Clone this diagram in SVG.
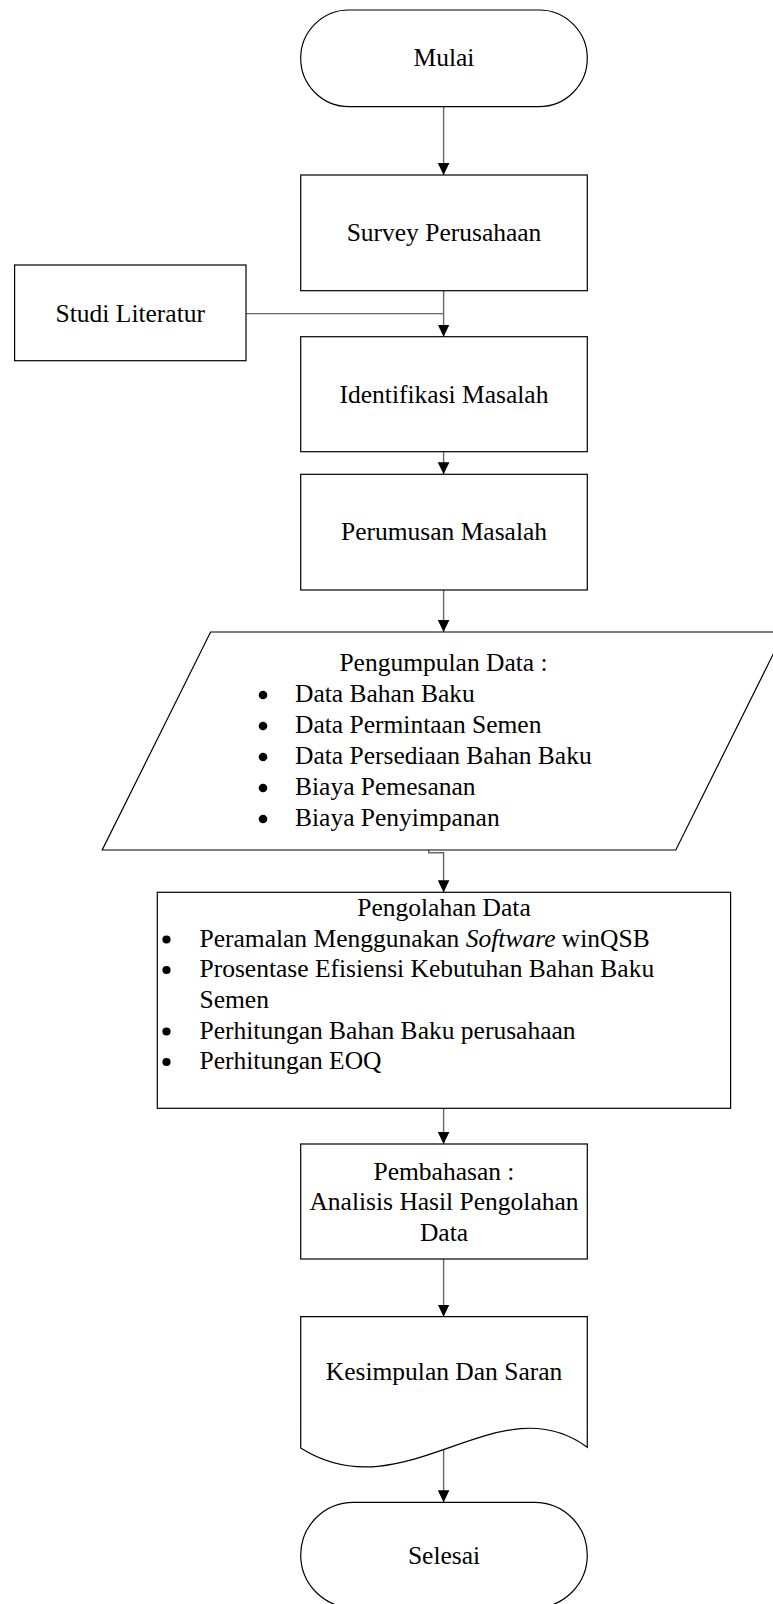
<svg xmlns="http://www.w3.org/2000/svg" width="773" height="1604" viewBox="0 0 773 1604">
<style>
.shape{fill:#fff;stroke:#000;stroke-width:1.2}
.conn{fill:none;stroke:#666;stroke-width:1.4}
text{font-family:"Liberation Serif","Times New Roman",serif;font-size:25.5px;fill:#000}
.c{text-anchor:middle}
.b{fill:#000;stroke:none}
</style>
<defs>
<marker id="arr" markerUnits="userSpaceOnUse" markerWidth="12" markerHeight="12" refX="12" refY="6" orient="auto">
<path d="M0,0.2 L12,6 L0,11.8 z" fill="#000"/>
</marker>
</defs>
<rect width="773" height="1604" fill="#fff"/>
<g id="connectors">
<path class="conn" d="M443.6,106.6 V175" marker-end="url(#arr)"/>
<path class="conn" d="M443.6,290.7 V336.7" marker-end="url(#arr)"/>
<path class="conn" d="M246,313.6 H443.6"/>
<path class="conn" d="M443.6,451.7 V474.3" marker-end="url(#arr)"/>
<path class="conn" d="M443.6,590 V632" marker-end="url(#arr)"/>
<path class="conn" d="M428.8,850 V852.8 H443.6 V892.3" marker-end="url(#arr)"/>
<path class="conn" d="M443.6,1108.3 V1144" marker-end="url(#arr)"/>
<path class="conn" d="M443.6,1259 V1316.7" marker-end="url(#arr)"/>
<path class="conn" d="M443.6,1447.5 V1502.3" marker-end="url(#arr)"/>
</g>
<g id="mulai">
<rect class="shape" x="300.7" y="10" width="286.6" height="96.6" rx="48.3" ry="48.3"/>
<text class="c" x="444" y="66">Mulai</text>
</g>
<g id="survey">
<rect class="shape" x="300.7" y="175" width="286.6" height="115.7"/>
<text class="c" x="444" y="241">Survey Perusahaan</text>
</g>
<g id="studi">
<rect class="shape" x="14.6" y="265" width="231.4" height="95.7"/>
<text class="c" x="130.3" y="322">Studi Literatur</text>
</g>
<g id="identifikasi">
<rect class="shape" x="300.7" y="336.7" width="286.6" height="115"/>
<text class="c" x="444" y="403">Identifikasi Masalah</text>
</g>
<g id="perumusan">
<rect class="shape" x="300.7" y="474.3" width="286.6" height="115.7"/>
<text class="c" x="444" y="540">Perumusan Masalah</text>
</g>
<g id="pengumpulan">
<polygon class="shape" points="210.6,632 784.2,632 675.8,850 102.2,850"/>
<text class="c" x="443.5" y="671">Pengumpulan Data :</text>
<circle class="b" cx="263" cy="695" r="4.3"/>
<circle class="b" cx="263" cy="726" r="4.3"/>
<circle class="b" cx="263" cy="757" r="4.3"/>
<circle class="b" cx="263" cy="788" r="4.3"/>
<circle class="b" cx="263" cy="819" r="4.3"/>
<text x="295" y="702">Data Bahan Baku</text>
<text x="295" y="733">Data Permintaan Semen</text>
<text x="295" y="764">Data Persediaan Bahan Baku</text>
<text x="295" y="795">Biaya Pemesanan</text>
<text x="295" y="826">Biaya Penyimpanan</text>
</g>
<g id="pengolahan">
<rect class="shape" x="157.3" y="892.3" width="573.3" height="216"/>
<text class="c" x="444" y="915.5">Pengolahan Data</text>
<circle class="b" cx="166.5" cy="939.5" r="4.1"/>
<circle class="b" cx="166.5" cy="970" r="4.1"/>
<circle class="b" cx="166.5" cy="1031.5" r="4.1"/>
<circle class="b" cx="166.5" cy="1062" r="4.1"/>
<text x="199.5" y="946.5">Peramalan Menggunakan <tspan font-style="italic">Software</tspan> winQSB</text>
<text x="199.5" y="977">Prosentase Efisiensi Kebutuhan Bahan Baku</text>
<text x="199.5" y="1007.5">Semen</text>
<text x="199.5" y="1038.5">Perhitungan Bahan Baku perusahaan</text>
<text x="199.5" y="1069">Perhitungan EOQ</text>
</g>
<g id="pembahasan">
<rect class="shape" x="300.7" y="1144" width="286.6" height="115"/>
<text class="c" x="444" y="1179.5">Pembahasan :</text>
<text class="c" x="444" y="1210">Analisis Hasil Pengolahan</text>
<text class="c" x="444" y="1240.5">Data</text>
</g>
<g id="kesimpulan">
<path class="shape" d="M300.7,1316.7 H587.3 V1447.3 C498,1381 405,1514 300.7,1448 Z"/>
<text class="c" x="444" y="1380">Kesimpulan Dan Saran</text>
</g>
<g id="selesai">
<rect class="shape" x="300.7" y="1502.3" width="286.6" height="105.4" rx="52.7" ry="52.7"/>
<text class="c" x="444" y="1564">Selesai</text>
</g>
</svg>
